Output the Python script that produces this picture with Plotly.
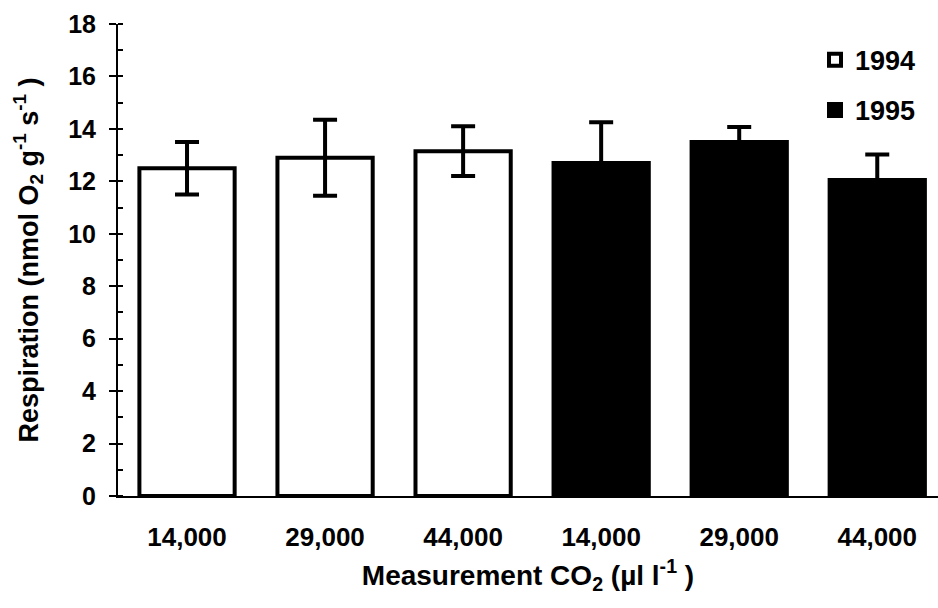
import plotly.graph_objects as go

categories = ["14,000", "29,000", "44,000", "14,000", "29,000", "44,000"]
years = ["1994", "1994", "1994", "1995", "1995", "1995"]
respiration = [12.5, 12.9, 13.15, 12.7, 13.5, 12.05]
error = [1.0, 1.45, 0.95, 1.55, 0.57, 0.97]

FONT = "Liberation Sans, Arial, sans-serif"
x_pos = list(range(len(categories)))

fig = go.Figure()
for yr, fill in [("1994", "white"), ("1995", "black")]:
    idx = [i for i, y in enumerate(years) if y == yr]
    fig.add_trace(go.Bar(
        x=[x_pos[i] for i in idx],
        y=[respiration[i] for i in idx],
        name=yr,
        legendgroup=yr,
        width=0.69,
        marker=dict(color=fill, line=dict(color="black", width=4)),
        error_y=dict(type="data", array=[error[i] for i in idx],
                     color="black", thickness=4, width=12, visible=True),
    ))

fig.update_layout(
    width=938, height=608,
    margin=dict(l=118, r=0, t=24, b=112),
    plot_bgcolor="white", paper_bgcolor="white",
    font=dict(family=FONT, color="black", size=22),
    showlegend=True,
    legend=dict(x=0.85, y=0.975, xanchor="left", yanchor="top",
                font=dict(size=27, family=FONT, weight="bold"),
                tracegroupgap=12, bgcolor="rgba(0,0,0,0)",
                itemwidth=30),
    bargap=0.3,
)
fig.update_xaxes(
    range=[-0.5, 5.44],
    tickmode="array", tickvals=x_pos, ticktext=categories,
    showline=True, linecolor="black", linewidth=2,
    ticks="", showgrid=False, zeroline=False,
    ticklabelstandoff=17,
    tickfont=dict(size=26, family=FONT, weight="bold"),
    title=dict(text="Measurement CO<sub>2</sub> (µl l<sup>-1</sup> )",
               font=dict(size=28, family=FONT, weight="bold"), standoff=14),
)
fig.update_yaxes(
    range=[0, 18], tickvals=list(range(0, 19, 2)),
    showline=True, linecolor="black", linewidth=2,
    ticks="outside", ticklen=7, tickwidth=2, tickcolor="black",
    minor=dict(dtick=1, ticks="inside", ticklen=5, tickwidth=2, tickcolor="black"),
    showgrid=False, zeroline=False,
    ticklabelstandoff=8,
    tickfont=dict(size=25, family=FONT, weight="bold"),
    title=dict(text="Respiration (nmol O<sub>2</sub> g<sup>-1</sup> s<sup>-1</sup> )",
               font=dict(size=27, family=FONT, weight="bold"), standoff=22),
)

fig.write_html("out.html")
